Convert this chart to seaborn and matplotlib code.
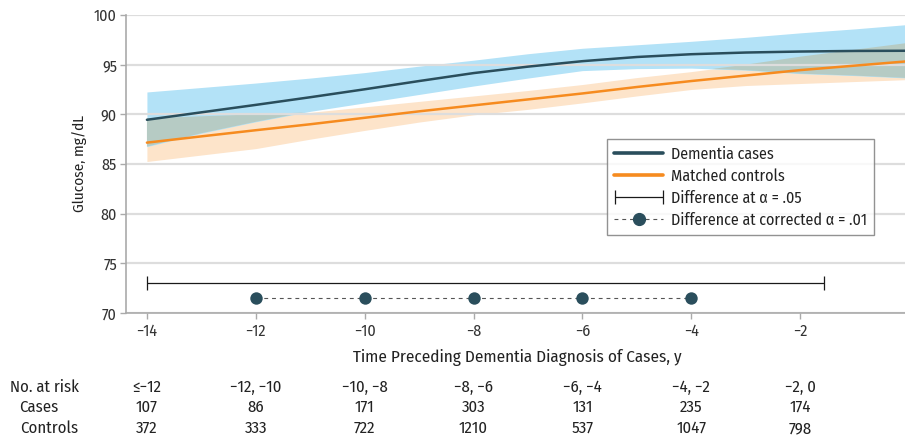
import numpy as np
import pandas as pd
import matplotlib
matplotlib.use("Agg")
import matplotlib.pyplot as plt
import matplotlib.transforms as mtransforms
from matplotlib.lines import Line2D
from matplotlib.container import ErrorbarContainer
from matplotlib.legend_handler import HandlerErrorbar
import seaborn as sns

# years before diagnosis
years = [-14, -13, -12, -11, -10, -9, -8, -7, -6, -5, -4, -3, -2, -1, 0]

# dementia cases: estimate and confidence band
cases_mean = [89.45, 90.2, 90.95, 91.72, 92.52, 93.35, 94.15, 94.8, 95.35, 95.77, 96.05, 96.22, 96.32, 96.38, 96.4]
cases_hi = [92.25, 92.7, 93.15, 93.65, 94.2, 94.85, 95.45, 96.1, 96.65, 97.0, 97.35, 97.75, 98.2, 98.6, 99.05]
cases_lo = [86.75, 88.1, 89.25, 90.3, 91.15, 92.0, 92.85, 93.65, 94.4, 94.6, 94.65, 94.45, 94.1, 93.9, 93.65]

# matched controls
ctrl_mean = [87.15, 87.78, 88.4, 89.0, 89.65, 90.3, 90.9, 91.5, 92.1, 92.75, 93.35, 93.9, 94.45, 94.9, 95.35]
ctrl_hi = [89.6, 89.8, 90.0, 90.2, 90.75, 91.3, 91.85, 92.4, 93.0, 93.7, 94.3, 95.0, 95.8, 96.5, 97.2]
ctrl_lo = [85.25, 85.9, 86.55, 87.5, 88.38, 89.22, 89.95, 90.5, 91.15, 91.85, 92.5, 92.9, 93.1, 93.3, 93.5]

# significant differences
diff05_start, diff05_end, diff05_y = -14, -1.57, 73.05
diff01_years = [-12, -10, -8, -6, -4]
diff01_y = 71.5

# number at risk table
risk_bins = ["≤−12", "−12, −10", "−10, −8", "−8, −6", "−6, −4", "−4, −2", "−2, 0"]
risk_cases = [107, 86, 171, 303, 131, 235, 174]
risk_controls = [372, 333, 722, 1210, 537, 1047, 798]
risk_pos = [-14, -12, -10, -8, -6, -4, -2]

dark = "#2A4E5C"
orange = "#F68B1F"
blue_band = "#B3E2F7"
orange_band = "#FDE4CA"
overlap_band = "#B6CBC4"

sns.set_theme(style="white")
plt.rcParams["font.family"] = ["Fira Sans Condensed", "DejaVu Sans"]
plt.rcParams["font.size"] = 11

fig = plt.figure(figsize=(9.05, 4.37), dpi=100)
ax = fig.add_axes([0.1392, 0.2838, 1.0044 - 0.1392, 0.9657 - 0.2838])

x = np.array(years)
c_lo, c_hi = np.array(cases_lo), np.array(cases_hi)
o_lo, o_hi = np.array(ctrl_lo), np.array(ctrl_hi)
ax.fill_between(x, o_lo, o_hi, color=orange_band, lw=0, zorder=1)
ax.fill_between(x, c_lo, c_hi, color=blue_band, lw=0, zorder=1)
ov_lo = np.maximum(c_lo, o_lo)
ov_hi = np.minimum(c_hi, o_hi)
ax.fill_between(x, ov_lo, ov_hi, where=ov_hi > ov_lo, interpolate=True,
                color=overlap_band, lw=0, zorder=1.1)

df = pd.DataFrame({
    "year": years * 2,
    "glucose": cases_mean + ctrl_mean,
    "group": ["Dementia cases"] * len(years) + ["Matched controls"] * len(years),
})
sns.lineplot(data=df, x="year", y="glucose", hue="group",
             palette={"Dementia cases": dark, "Matched controls": orange},
             linewidth=1.8, legend=False, ax=ax, zorder=3)

eb = ax.errorbar([(diff05_start + diff05_end) / 2], [diff05_y],
                 xerr=[(diff05_end - diff05_start) / 2], fmt="none",
                 ecolor="#1a1a1a", elinewidth=0.9, capsize=5, capthick=0.9, zorder=3)
ax.plot(diff01_years, [diff01_y] * len(diff01_years), color="#555555", lw=0.8,
        ls=(0, (3.5, 3.5)), zorder=3)
sns.scatterplot(x=diff01_years, y=[diff01_y] * len(diff01_years), color=dark,
                s=80, edgecolor=dark, linewidth=0, ax=ax, zorder=4)

ax.set_xlim(-14.385, 0)
ax.set_ylim(70, 100)
ax.set_xticks(range(-14, 1, 2))
ax.set_yticks(range(70, 101, 5))
ax.set_axisbelow("line")
ax.grid(axis="y", color="#DDDDDD", lw=1.6)
ax.grid(axis="x", visible=False)
for s in ["top", "right"]:
    ax.spines[s].set_visible(False)
for s in ["left", "bottom"]:
    ax.spines[s].set_color("#AAAAAA")
    ax.spines[s].set_linewidth(1.2)
ax.tick_params(axis="both", colors="#AAAAAA", labelcolor="#333333", length=4.5,
               width=1, labelsize=11.5, direction="out", left=True, bottom=True)
ax.tick_params(axis="x", pad=3)
ax.tick_params(axis="y", pad=2)
ax.set_xlabel("Time Preceding Dementia Diagnosis of Cases, y", fontsize=12.3,
              color="#222222", labelpad=7)
ax.set_ylabel("Glucose, mg/dL", fontsize=11, color="#222222", labelpad=5)

handles = [
    Line2D([], [], color=dark, lw=2.6),
    Line2D([], [], color=orange, lw=2.6),
    eb,
    Line2D([], [], color="#555555", lw=0.8, ls=(0, (3.5, 3.5)), marker="o",
           markersize=8.5, markerfacecolor=dark, markeredgecolor=dark),
]
labels = ["Dementia cases", "Matched controls", "Difference at α = .05",
          "Difference at corrected α = .01"]
leg = ax.legend(handles, labels, loc="upper left", bbox_to_anchor=(0.614, 0.584),
                borderaxespad=0, frameon=True, fancybox=False, fontsize=11.5,
                handlelength=3.1, handletextpad=0.45, labelspacing=0.38,
                borderpad=0.45, numpoints=1,
                handler_map={ErrorbarContainer: HandlerErrorbar(xerr_size=1.5)})
leg.get_frame().set_edgecolor("#777777")
leg.get_frame().set_linewidth(1.0)
for t in leg.get_texts():
    t.set_color("#222222")

# number at risk table
trans = mtransforms.blended_transform_factory(ax.transData, fig.transFigure)
rows = [("No. at risk", risk_bins, 0.103, 10),
        ("Cases", risk_cases, 0.0572, 19),
        ("Controls", risk_controls, 0.0092, 20)]
for name, vals, yy, xpx in rows:
    fig.text(xpx / 905, yy, name, ha="left", va="baseline", fontsize=12, color="#222222")
    for pos, v in zip(risk_pos, vals):
        ax.text(pos, yy, str(v), transform=trans, ha="center", va="baseline",
                fontsize=12, color="#222222", clip_on=False)

fig.savefig("out.png", dpi=100)
